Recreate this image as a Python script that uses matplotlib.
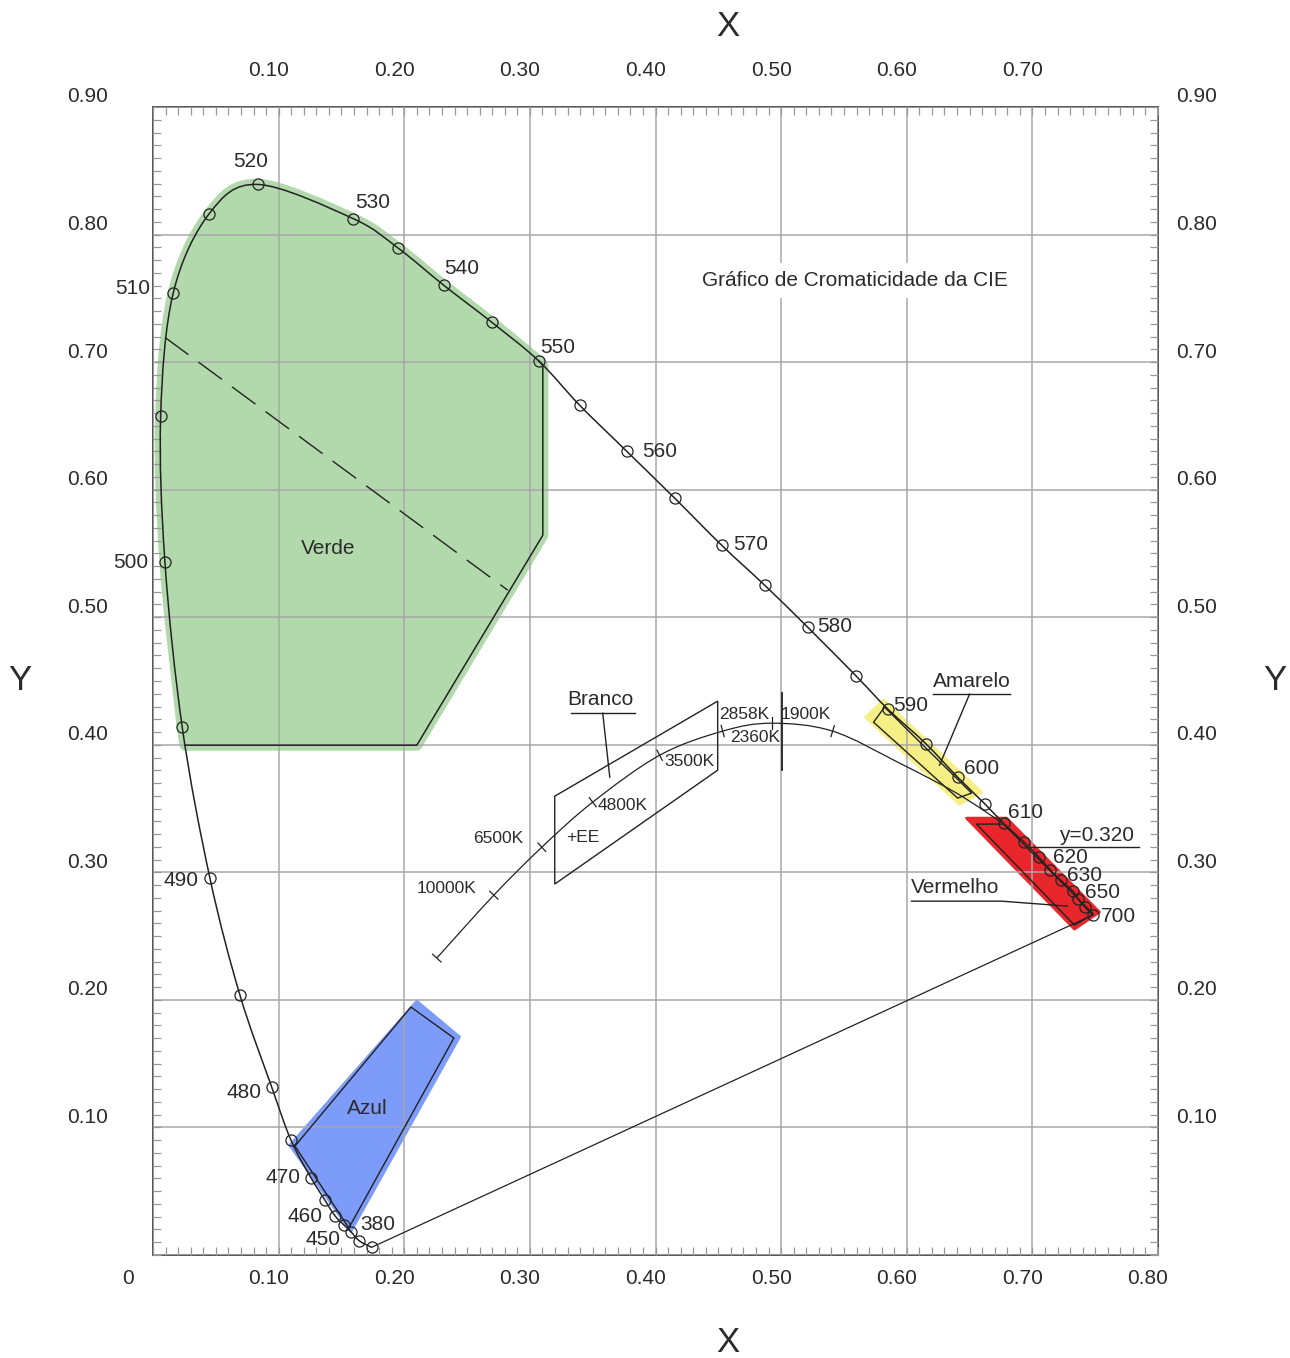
import numpy as np
import matplotlib.pyplot as plt
from matplotlib.path import Path
from matplotlib.patches import PathPatch, Polygon
from matplotlib.transforms import offset_copy

plt.rcParams['font.family'] = ['Liberation Sans', 'DejaVu Sans']

# spectral locus, 380 nm -> 700 nm
locus_x = [0.1740, 0.1641, 0.1575, 0.1520, 0.1448, 0.1368, 0.1257, 0.1098, 0.0944,
           0.0692, 0.0453, 0.0233, 0.0095, 0.0061, 0.0161, 0.0448, 0.0833, 0.1593,
           0.1951, 0.2315, 0.2697, 0.3071, 0.3397, 0.3771, 0.4153, 0.4527, 0.4869,
           0.5211, 0.5598, 0.5850, 0.6150, 0.6407, 0.6624, 0.6772, 0.6937, 0.7049,
           0.7144, 0.7224, 0.7321, 0.7367, 0.7422, 0.7480]
locus_y = [0.0060, 0.0112, 0.0183, 0.0235, 0.0308, 0.0431, 0.0606, 0.0901, 0.1319,
           0.2038, 0.2955, 0.4136, 0.5431, 0.6578, 0.7542, 0.8164, 0.8393, 0.8125,
           0.7894, 0.7602, 0.7312, 0.7009, 0.6661, 0.6301, 0.5933, 0.5564, 0.5251,
           0.4922, 0.4538, 0.4279, 0.4010, 0.3744, 0.3534, 0.3383, 0.3234, 0.3121,
           0.3017, 0.2939, 0.2853, 0.2788, 0.2725, 0.2665]

wl_labels = ['520', '530', '540', '550', '560', '570', '580', '590', '600', '610',
             '620', '630', '650', '700', '510', '500', '490', '480', '470', '460',
             '450', '380']
wl_label_x = [0.0780, 0.1750, 0.2458, 0.3222, 0.4033, 0.4757, 0.5426, 0.6030, 0.6595,
              0.6945, 0.7303, 0.7414, 0.7558, 0.7685, -0.0159, -0.0175, 0.0223, 0.0724,
              0.1034, 0.1209, 0.1352, 0.1790]
wl_label_y = [0.8574, 0.8252, 0.7735, 0.7116, 0.6301, 0.5572, 0.4929, 0.4310, 0.3817,
              0.3472, 0.3119, 0.2978, 0.2845, 0.2657, 0.7578, 0.5431, 0.2939, 0.1277,
              0.0611, 0.0298, 0.0118, 0.0243]

# planckian locus
planck_x = [0.2259, 0.2713, 0.3095, 0.3500, 0.4033, 0.4535, 0.4924, 0.5410, 0.5943,
            0.6396, 0.6762]
planck_y = [0.2328, 0.2821, 0.3197, 0.3550, 0.3918, 0.4107, 0.4169, 0.4107, 0.3856,
            0.3621, 0.3386]
planck_ticks = [0, 1, 2, 3, 4, 5, 6, 7]
kelvin_labels = ['10000K', '6500K', '4800K', '3500K', '2858K', '2360K', '1900K', '+EE']
kelvin_x = [0.2339, 0.2745, 0.3739, 0.4272, 0.4702, 0.4797, 0.5195, 0.3421]
kelvin_y = [0.2876, 0.3268, 0.3527, 0.3871, 0.4240, 0.4060, 0.4240, 0.3276]

# colour regions: outlines and (slightly larger) fills
green_corner_x = [0.3103, 0.3103, 0.2100, 0.0255]
green_corner_y = [0.6975, 0.5643, 0.3997, 0.3997]
blue_x = [0.1130, 0.2053, 0.2395, 0.1559]
blue_y = [0.0854, 0.1944, 0.1701, 0.0212]
blue_fill_x = [0.1090, 0.2100, 0.2440, 0.1575]
blue_fill_y = [0.0860, 0.1990, 0.1710, 0.0185]
yellow_x = [0.5736, 0.5823, 0.6516, 0.6405]
yellow_y = [0.4177, 0.4295, 0.3621, 0.3582]
yellow_fill_x = [0.5672, 0.5815, 0.6595, 0.6420]
yellow_fill_y = [0.4216, 0.4350, 0.3629, 0.3534]
red_x = [0.6555, 0.6770, 0.7486, 0.7335]
red_y = [0.3378, 0.3378, 0.2672, 0.2586]
red_fill_x = [0.6476, 0.6794, 0.7534, 0.7335]
red_fill_y = [0.3425, 0.3425, 0.2688, 0.2555]
white_x = [0.3198, 0.4495, 0.4495, 0.3198]
white_y = [0.3597, 0.4342, 0.3801, 0.2908]

region_names = ['Verde', 'Azul', 'Branco', 'Amarelo', 'Vermelho', 'y=0.320']
region_x = [0.1392, 0.1702, 0.3564, 0.6516, 0.6388, 0.7510]
region_y = [0.5541, 0.1152, 0.4357, 0.4498, 0.2884, 0.3292]

tick_vals = [0.1, 0.2, 0.3, 0.4, 0.5, 0.6, 0.7, 0.8, 0.9]
tick_text = ['0.10', '0.20', '0.30', '0.40', '0.50', '0.60', '0.70', '0.80', '0.90']

INK = '#222222'
TXT = '#2b2b2b'
FS = 15


def smooth(xs, ys):
    pts = np.column_stack([xs, ys])
    n = len(pts)
    verts = [pts[0]]
    codes = [Path.MOVETO]
    for i in range(n - 1):
        p0 = pts[max(i - 1, 0)]
        p1 = pts[i]
        p2 = pts[i + 1]
        p3 = pts[min(i + 2, n - 1)]
        verts += [p1 + (p2 - p0) / 6, p2 - (p3 - p1) / 6, p2]
        codes += [Path.CURVE4] * 3
    return verts, codes


fig = plt.figure(figsize=(12.9, 13.58), dpi=100)
ax = fig.add_axes([153 / 1290, 103 / 1358, 1005 / 1290, 1148 / 1358])
ax.set_xlim(0, 0.8)
ax.set_ylim(0, 0.9)
ax.set_xticks(np.arange(0, 0.81, 0.1))
ax.set_yticks(np.arange(0, 0.91, 0.1))
ax.set_xticks(np.arange(0, 0.801, 0.01), minor=True)
ax.set_yticks(np.arange(0, 0.901, 0.01), minor=True)
ax.tick_params(which='both', direction='in', top=True, right=True, length=6,
               width=0.9, color='#999999', labelbottom=False, labelleft=False)
ax.set_axisbelow(False)
ax.grid(True, which='major', color='#a8a8a8', lw=1.1)
for s in ax.spines.values():
    s.set_color('#555555')
    s.set_linewidth(1.4)

# green region
v, c = smooth(locus_x[11:22], locus_y[11:22])
gv = [(green_corner_x[-1], green_corner_y[-1])] + v + list(zip(green_corner_x, green_corner_y))
gc = [Path.MOVETO, Path.LINETO] + c[1:] + [Path.LINETO] * len(green_corner_x)
gv.append(gv[0])
gc.append(Path.CLOSEPOLY)
ax.add_patch(PathPatch(Path(gv, gc), fc='#b2d9ab', ec='#b2d9ab', lw=8,
                       joinstyle='round', zorder=1))
ax.plot([locus_x[21]] + green_corner_x, [locus_y[21]] + green_corner_y,
        color=INK, lw=1.1, zorder=3)

for fx, fy, px, py, col in [(blue_fill_x, blue_fill_y, blue_x, blue_y, '#7d9bf8'),
                            (yellow_fill_x, yellow_fill_y, yellow_x, yellow_y, '#f5ef85'),
                            (red_fill_x, red_fill_y, red_x, red_y, '#e8262b')]:
    ax.add_patch(Polygon(np.column_stack([fx, fy]), closed=True, fc=col, ec=col,
                         lw=2, joinstyle='round', zorder=1))
    ax.add_patch(Polygon(np.column_stack([px, py]), closed=True, fc='none',
                         ec=INK, lw=1.0, zorder=3))

ax.add_patch(Polygon(np.column_stack([white_x, white_y]), closed=True, fc='none',
                     ec=INK, lw=1.0, zorder=3))

# dashed line in the green area
ax.plot([0.0095, 0.2824], [0.7194, 0.5212], color=INK, lw=1.0,
        dashes=(21, 9), zorder=3)

# spectral locus and purple line
v, c = smooth(locus_x, locus_y)
ax.add_patch(PathPatch(Path(v, c), fc='none', ec=INK, lw=1.1, zorder=3))
ax.plot([locus_x[0], locus_x[-1]], [locus_y[0], locus_y[-1]], color=INK, lw=0.9, zorder=3)
ax.plot(locus_x, locus_y, 'o', ms=8, mfc='none', mec=INK, mew=0.9, zorder=4)

# planckian locus
v, c = smooth(planck_x, planck_y)
ax.add_patch(PathPatch(Path(v, c), fc='none', ec=INK, lw=0.9, zorder=3))
for i in planck_ticks:
    j0, j1 = max(i - 1, 0), min(i + 1, len(planck_x) - 1)
    dx, dy = planck_x[j1] - planck_x[j0], planck_y[j1] - planck_y[j0]
    n = np.hypot(dx, dy)
    nx, ny = -dy / n * 0.0045, dx / n * 0.0045
    ax.plot([planck_x[i] - nx, planck_x[i] + nx], [planck_y[i] - ny, planck_y[i] + ny],
            color=INK, lw=0.9, zorder=3)
ax.plot([0.5004, 0.5004], [0.3801, 0.4404], color=INK, lw=1.3, zorder=3)

# leader lines
ax.plot([0.3325, 0.3835], [0.4248, 0.4248], color=INK, lw=1.0, zorder=3)
ax.plot([0.3580, 0.3636], [0.4248, 0.3746], color=INK, lw=1.0, zorder=3)
ax.plot([0.6205, 0.6818], [0.4397, 0.4397], color=INK, lw=1.0, zorder=3)
ax.plot([0.6500, 0.6261], [0.4397, 0.3840], color=INK, lw=1.0, zorder=3)
ax.plot([0.6038, 0.6754, 0.7279], [0.2774, 0.2774, 0.2735], color=INK, lw=1.0, zorder=3)
ax.plot([0.6977, 0.7852], [0.3197, 0.3197], color=INK, lw=1.0, zorder=3)

for t, x, y in zip(wl_labels, wl_label_x, wl_label_y):
    ax.text(x, y, t, fontsize=FS, color=TXT, ha='center', va='center',
            zorder=5, clip_on=False)
for t, x, y in zip(kelvin_labels, kelvin_x, kelvin_y):
    ax.text(x, y, t, fontsize=12.5, color=TXT, ha='center', va='center', zorder=5)
for t, x, y in zip(region_names, region_x, region_y):
    ax.text(x, y, t, fontsize=FS, color=TXT, ha='center', va='center', zorder=5)

ax.text(0.5585, 0.7641, 'Gráfico de Cromaticidade da CIE', fontsize=FS, color=TXT,
        ha='center', va='center', zorder=5,
        bbox=dict(fc='white', ec='none', pad=6))

# tick labels (offset from the grid lines as in the original)
bot = offset_copy(ax.get_xaxis_transform(), fig, x=-10, y=-23, units='dots')
top = offset_copy(ax.get_xaxis_transform(), fig, x=-10, y=37, units='dots')
lft = offset_copy(ax.get_yaxis_transform(), fig, x=-45, y=10, units='dots')
rgt = offset_copy(ax.get_yaxis_transform(), fig, x=18, y=10, units='dots')
ax.text(0, 0, '0', transform=offset_copy(ax.get_xaxis_transform(), fig, x=-25, y=-23,
                                         units='dots'),
        fontsize=FS, color=TXT, ha='center', va='center')
for v_, t in zip(tick_vals[:8], tick_text[:8]):
    ax.text(v_, 0, t, transform=bot, fontsize=FS, color=TXT, ha='center', va='center')
for v_, t in zip(tick_vals[:7], tick_text[:7]):
    ax.text(v_, 1, t, transform=top, fontsize=FS, color=TXT, ha='center', va='center')
for v_, t in zip(tick_vals, tick_text):
    ax.text(0, v_, t, transform=lft, fontsize=FS, color=TXT, ha='right', va='center')
    ax.text(1, v_, t, transform=rgt, fontsize=FS, color=TXT, ha='left', va='center')

fig.text(728 / 1290, 1 - 27 / 1358, 'X', fontsize=25, color=TXT, ha='center', va='center')
fig.text(728 / 1290, 1 - 1343 / 1358, 'X', fontsize=25, color=TXT, ha='center', va='center')
fig.text(20 / 1290, 1 - 680 / 1358, 'Y', fontsize=25, color=TXT, ha='center', va='center')
fig.text(1275 / 1290, 1 - 680 / 1358, 'Y', fontsize=25, color=TXT, ha='center', va='center')

fig.savefig('out.png', dpi=100)
